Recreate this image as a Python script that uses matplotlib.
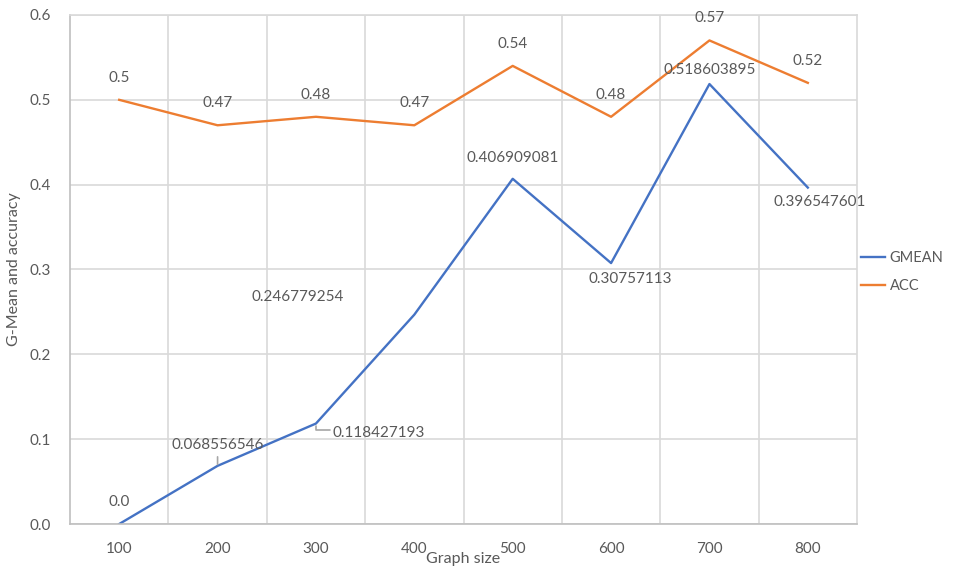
import matplotlib.pyplot as plt

# data
graph_size = ['100', '200', '300', '400', '500', '600', '700', '800']
gmean = [0.0, 0.068556546, 0.118427193, 0.246779254, 0.406909081, 0.30757113, 0.518603895, 0.396547601]
acc = [0.5, 0.47, 0.48, 0.47, 0.54, 0.48, 0.57, 0.52]
gmean_labels = ['0.0', '0.068556546', '0.118427193', '0.246779254', '0.406909081',
                '0.30757113', '0.518603895', '0.396547601']
acc_labels = ['0.5', '0.47', '0.48', '0.47', '0.54', '0.48', '0.57', '0.52']

# label offsets in pixels (dx, dy, ha)
gmean_off = [(0, 22, 'center'), (0, 21, 'center'), (17, -9, 'left'), (-117, 18, 'center'),
             (0, 21, 'center'), (19, -16, 'center'), (0, 14, 'center'), (12, -14, 'center')]

plt.rcParams['font.family'] = ['Lato', 'DejaVu Sans']
txt = '#595959'
grid = '#d9d9d9'

fig = plt.figure(figsize=(9.55, 5.72), dpi=100)
ax = fig.add_axes([0.0733, 0.0839, 0.8241, 0.8899])

x = list(range(len(graph_size)))
ax.plot(x, gmean, color='#4472C4', lw=1.7, label='GMEAN')
ax.plot(x, acc, color='#ED7D31', lw=1.7, label='ACC')

ax.set_xlim(-0.5, len(graph_size) - 0.5)
ax.set_ylim(0, 0.6)
ax.set_xticks(x)
ax.set_xticklabels(graph_size)
ax.set_yticks([0, 0.1, 0.2, 0.3, 0.4, 0.5, 0.6])
ax.set_yticklabels(['0.0', '0.1', '0.2', '0.3', '0.4', '0.5', '0.6'])
ax.set_xticks([i + 0.5 for i in range(len(graph_size) - 1)], minor=True)
ax.grid(True, which='minor', axis='x', color=grid, lw=1.2)
ax.grid(True, which='major', axis='y', color=grid, lw=1.2)
ax.tick_params(which='both', length=0, labelsize=11, colors=txt)
ax.tick_params(axis='x', pad=13)
ax.tick_params(axis='y', pad=14)
for s in ax.spines.values():
    s.set_color(grid)
    s.set_linewidth(1.2)
ax.spines['left'].set_color('#bfbfbf')
ax.spines['bottom'].set_color('#bfbfbf')

ax.set_xlabel('Graph size', fontsize=11.5, color=txt, labelpad=-3)
ax.set_ylabel('G-Mean and accuracy', fontsize=11.5, color=txt, labelpad=6)

for i, lab in enumerate(acc_labels):
    ax.annotate(lab, (x[i], acc[i]), xytext=(0, 22), textcoords='offset pixels',
                ha='center', va='center', fontsize=11, color=txt)
for i, lab in enumerate(gmean_labels):
    dx, dy, ha = gmean_off[i]
    ax.annotate(lab, (x[i], gmean[i]), xytext=(dx, dy), textcoords='offset pixels',
                ha=ha, va='center', fontsize=11, color=txt)

# small leader lines for the two crowded labels
ax.annotate('', (x[1], gmean[1]), xytext=(0, 9), textcoords='offset pixels',
            arrowprops=dict(arrowstyle='-', color='#a6a6a6', lw=1.2, shrinkA=0, shrinkB=1))
ax.annotate('', (x[2], gmean[2]), xytext=(14, -6), textcoords='offset pixels',
            arrowprops=dict(arrowstyle='-', color='#a6a6a6', lw=1.2, shrinkA=0, shrinkB=2,
                            connectionstyle='angle,angleA=0,angleB=90,rad=0'))

leg = ax.legend(loc='center left', bbox_to_anchor=(1.0, 0.495), frameon=False,
                fontsize=10.5, handlelength=1.7, handletextpad=0.3, labelspacing=1.0,
                borderaxespad=0.05, borderpad=0.2)
for t in leg.get_texts():
    t.set_color(txt)

fig.savefig('out.png', dpi=100)
